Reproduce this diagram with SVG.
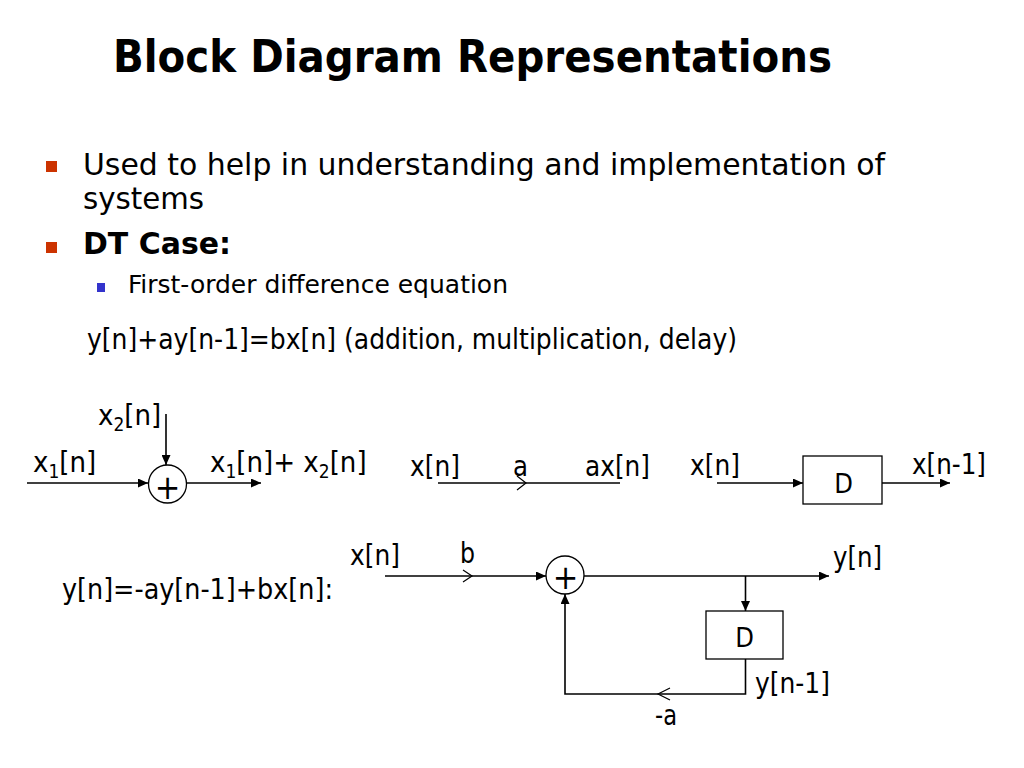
<svg xmlns="http://www.w3.org/2000/svg" width="1024" height="768" viewBox="0 0 1024 768">
<style>
text{font-family:"DejaVu Sans Condensed","DejaVu Sans",sans-serif;fill:#000}
.title{font-weight:bold;font-size:44px}
.b1{font-size:30px}
.b2{font-size:25px}
.eq{font-size:29px}
.lbl{font-size:29px}
.sub{font-size:19px}
.plus{font-size:34px;text-anchor:middle}
.d{font-size:27px;text-anchor:middle}
.wire{fill:none;stroke:#000;stroke-width:1.6}
.box{fill:#fff;stroke:#000;stroke-width:1.3}
.chev{fill:none;stroke:#000;stroke-width:1.2}
</style>
<defs>
<marker id="arr" markerUnits="userSpaceOnUse" markerWidth="11" markerHeight="9" refX="10" refY="4.5" orient="auto">
<path d="M0,0 L10,4.5 L0,9 z" fill="#000"/>
</marker>
</defs>
<rect width="1024" height="768" fill="#fff"/>
<g id="slide-text">
<text class="title" x="113" y="72" textLength="719" lengthAdjust="spacingAndGlyphs">Block Diagram Representations</text>
<rect x="46" y="161" width="11" height="11" fill="#cc3300"/>
<text class="b1" x="83" y="175" textLength="802" lengthAdjust="spacingAndGlyphs">Used to help in understanding and implementation of</text>
<text class="b1" x="83" y="209" textLength="121" lengthAdjust="spacingAndGlyphs">systems</text>
<rect x="46" y="242" width="11" height="11" fill="#cc3300"/>
<text class="b1" x="83" y="254" font-weight="bold" textLength="148" lengthAdjust="spacingAndGlyphs">DT Case:</text>
<rect x="97" y="283" width="8" height="9" fill="#3333cc"/>
<text class="b2" x="128" y="293" textLength="380" lengthAdjust="spacingAndGlyphs">First-order difference equation</text>
<text class="eq" x="87" y="349" textLength="650" lengthAdjust="spacingAndGlyphs">y[n]+ay[n-1]=bx[n] (addition, multiplication, delay)</text>
<text class="eq" x="62" y="599" textLength="271" lengthAdjust="spacingAndGlyphs">y[n]=-ay[n-1]+bx[n]:</text>
</g>
<g id="connectors">
<line class="wire" x1="27" y1="483" x2="148" y2="483" marker-end="url(#arr)"/>
<line class="wire" x1="166" y1="414" x2="166" y2="465" marker-end="url(#arr)"/>
<line class="wire" x1="187" y1="483" x2="261" y2="483" marker-end="url(#arr)"/>
<line class="wire" x1="438" y1="483" x2="620" y2="483"/>
<polyline class="chev" points="517,476 526,483 517,490"/>
<line class="wire" x1="717" y1="483" x2="803" y2="483" marker-end="url(#arr)"/>
<line class="wire" x1="882" y1="483" x2="950" y2="483" marker-end="url(#arr)"/>
<line class="wire" x1="385" y1="576" x2="546" y2="576" marker-end="url(#arr)"/>
<polyline class="chev" points="463,570 472,576 463,582"/>
<line class="wire" x1="584" y1="576" x2="829" y2="576" marker-end="url(#arr)"/>
<line class="wire" x1="745.5" y1="576" x2="745.5" y2="611" marker-end="url(#arr)"/>
<polyline class="wire" points="745.5,659 745.5,694 565,694 565,594" marker-end="url(#arr)"/>
<polyline class="chev" points="670,688 658,694 670,700"/>
</g>
<g id="adder1">
<circle cx="167.5" cy="484" r="19" fill="#fff" stroke="#000" stroke-width="1.3"/>
<text class="plus" x="167.5" y="498.5">+</text>
</g>
<g id="adder1-labels">
<text class="lbl" x="33" y="472">x<tspan class="sub" dy="6">1</tspan><tspan dy="-6">[n]</tspan></text>
<text class="lbl" x="98" y="425">x<tspan class="sub" dy="6">2</tspan><tspan dy="-6">[n]</tspan></text>
<text class="lbl" x="210" y="472">x<tspan class="sub" dy="6">1</tspan><tspan dy="-6">[n]+ x</tspan><tspan class="sub" dy="6">2</tspan><tspan dy="-6">[n]</tspan></text>
</g>
<g id="gain">
<text class="lbl" x="410" y="476" textLength="50" lengthAdjust="spacingAndGlyphs">x[n]</text>
<text class="lbl" x="513" y="476" textLength="15" lengthAdjust="spacingAndGlyphs">a</text>
<text class="lbl" x="585" y="476" textLength="65" lengthAdjust="spacingAndGlyphs">ax[n]</text>
</g>
<g id="delay1">
<rect class="box" x="803" y="456" width="79" height="48"/>
<text class="d" x="843.5" y="493">D</text>
<text class="lbl" x="690" y="475" textLength="50" lengthAdjust="spacingAndGlyphs">x[n]</text>
<text class="lbl" x="912" y="474" textLength="74" lengthAdjust="spacingAndGlyphs">x[n-1]</text>
</g>
<g id="adder2">
<circle cx="565" cy="575" r="19" fill="#fff" stroke="#000" stroke-width="1.3"/>
<text class="plus" x="565.5" y="589">+</text>
</g>
<g id="delay2">
<rect class="box" x="706" y="611" width="77" height="48"/>
<text class="d" x="744.5" y="647">D</text>
</g>
<g id="system-labels">
<text class="lbl" x="350" y="565" textLength="50" lengthAdjust="spacingAndGlyphs">x[n]</text>
<text class="lbl" x="460" y="563" textLength="15" lengthAdjust="spacingAndGlyphs">b</text>
<text class="lbl" x="833" y="567" textLength="49" lengthAdjust="spacingAndGlyphs">y[n]</text>
<text class="lbl" x="755" y="693" textLength="75" lengthAdjust="spacingAndGlyphs">y[n-1]</text>
<text class="lbl" x="655" y="725" textLength="22" lengthAdjust="spacingAndGlyphs">-a</text>
</g>
</svg>
